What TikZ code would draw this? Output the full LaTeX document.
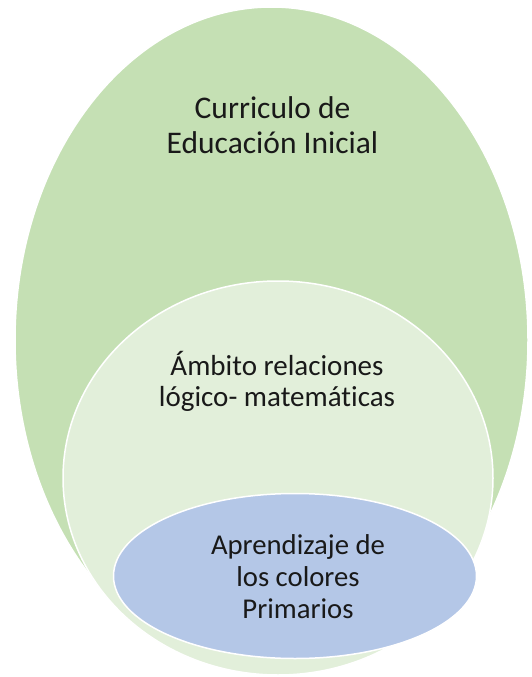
\documentclass[tikz,border=0pt]{standalone}
\usepackage{fontspec}
\setmainfont{Carlito}[Ligatures={NoCommon}]
\usetikzlibrary{positioning,shapes.geometric}
\definecolor{verdeA}{HTML}{C5E0B4}
\definecolor{verdeB}{HTML}{E2EFDA}
\definecolor{azulC}{HTML}{B4C7E7}

\begin{document}
\begin{tikzpicture}[
    x=1pt, y=-1pt,
    zona/.style={ellipse, draw=white, line width=1.5pt, inner sep=0pt},
    rotulo/.style={align=center, inner sep=0pt, text=black!90}
]
    \useasboundingbox (0,0) rectangle (532,677);

    \node[zona, fill=verdeA, minimum width=513pt, minimum height=666pt] (curriculo) at (271.5,340) {};
    \node[zona, fill=verdeB, minimum width=430pt, minimum height=394pt] (ambito) at (278,478) {};
    \node[zona, fill=azulC, minimum width=363pt, minimum height=165pt] (colores) at (295,576) {};

    \node[rotulo, font={\fontsize{31.5}{35}\selectfont}] (tcurriculo) at (272.5,125) {Curriculo de\\Educación Inicial};
    \node[rotulo, font={\fontsize{29}{31}\selectfont}] (tambito) at (277,381) {Ámbito relaciones\\lógico- matemáticas};
    \node[rotulo, font={\fontsize{28.7}{32}\selectfont}] (tcolores) at (298,577) {Aprendizaje de\\los colores\\Primarios};
\end{tikzpicture}
\end{document}
